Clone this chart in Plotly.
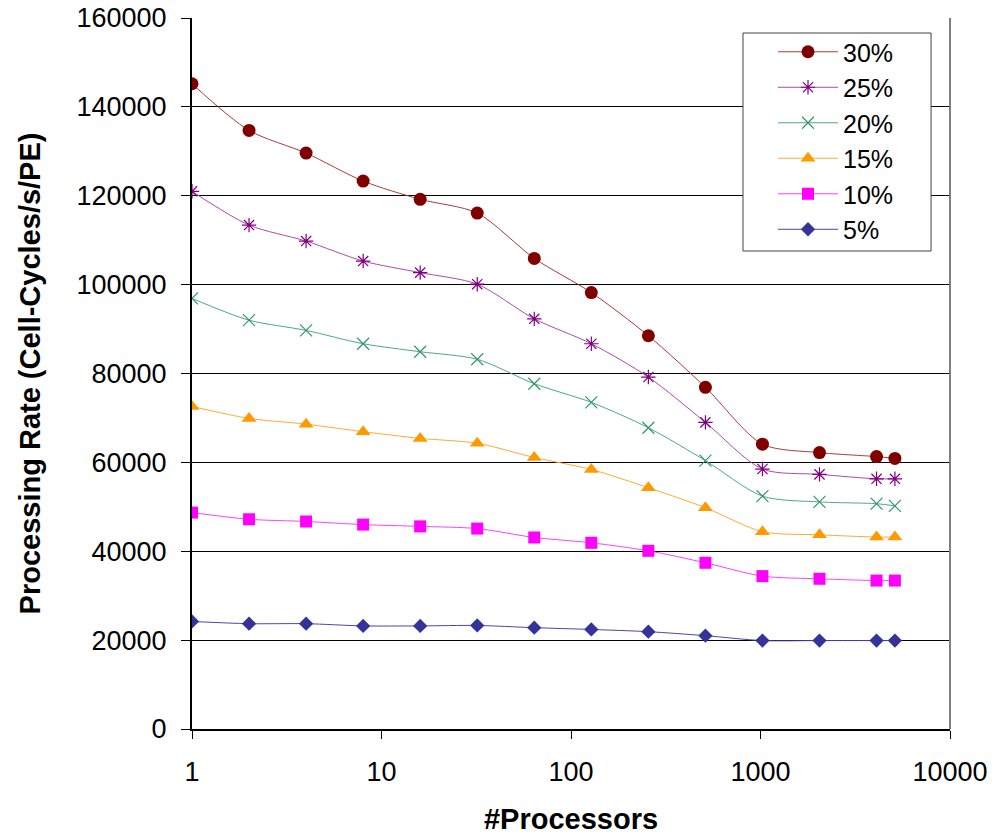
import plotly.graph_objects as go

processors = [1, 2, 4, 8, 16, 32, 64, 128, 256, 512, 1024, 2048, 4096, 5120]

series_names = ["30%", "25%", "20%", "15%", "10%", "5%"]
rate_30 = [145200, 134700, 129600, 123300, 119200, 116100, 105900, 98200, 88500, 76900, 64100, 62200, 61300, 60900]
rate_25 = [121000, 113400, 109800, 105300, 102700, 100100, 92300, 86700, 79200, 69000, 58500, 57300, 56300, 56300]
rate_20 = [96900, 92000, 89700, 86700, 84900, 83200, 77700, 73500, 67800, 60400, 52400, 51100, 50700, 50200]
rate_15 = [72600, 69900, 68600, 66900, 65400, 64300, 61100, 58400, 54300, 49800, 44400, 43700, 43200, 43200]
rate_10 = [48700, 47200, 46700, 46000, 45600, 45100, 43100, 41900, 40100, 37400, 34400, 33800, 33400, 33400]
rate_5 = [24200, 23700, 23700, 23200, 23200, 23300, 22800, 22400, 21900, 21000, 19900, 19900, 19900, 19900]

x_tick_vals = [1, 10, 100, 1000, 10000]
x_tick_text = ["1", "10", "100", "1000", "10000"]
y_tick_vals = [0, 20000, 40000, 60000, 80000, 100000, 120000, 140000, 160000]
y_tick_text = ["0", "20000", "40000", "60000", "80000", "100000", "120000", "140000", "160000"]

styles = [
    dict(color="#800000", line="#A83C3C", symbol="circle", size=13),
    dict(color="#800080", line="#B048B0", symbol="asterisk-open", size=12),
    dict(color="#339966", line="#4DAA80", symbol="x-thin-open", size=12),
    dict(color="#FF9900", line="#FFAA33", symbol="triangle-up", size=13),
    dict(color="#FF00FF", line="#FF40FF", symbol="square", size=12),
    dict(color="#333399", line="#4848A8", symbol="diamond", size=11),
]
all_rates = [rate_30, rate_25, rate_20, rate_15, rate_10, rate_5]

fig = go.Figure()
for name, vals, st in zip(series_names, all_rates, styles):
    open_sym = st["symbol"].endswith("open")
    fig.add_trace(go.Scatter(
        x=processors, y=vals, name=name, mode="lines+markers",
        line=dict(color=st["line"], width=1, shape="spline", smoothing=0.8),
        marker=dict(symbol=st["symbol"], size=st["size"], color=st["color"],
                    line=dict(color=st["color"], width=1.2 if open_sym else 0)),
    ))

font_family = "Liberation Sans, Arial, sans-serif"

fig.update_layout(
    width=994, height=835,
    margin=dict(l=192, r=44, t=18, b=106, autoexpand=False),
    paper_bgcolor="white", plot_bgcolor="white",
    font=dict(family=font_family, color="black", size=27),
    showlegend=True,
    legend=dict(
        x=0.7665, y=0.9845, xanchor="left", yanchor="top",
        bgcolor="rgba(0,0,0,0)", borderwidth=0,
        font=dict(size=25, family=font_family),
        itemwidth=60,
        traceorder="normal",
    ),
    xaxis=dict(
        type="log", range=[0, 4], automargin=False,
        tickvals=x_tick_vals, ticktext=x_tick_text,
        ticks="outside", ticklen=8, tickcolor="black", tickwidth=1,
        ticklabelstandoff=10, ticklabeloverflow="allow",
        showgrid=False, showline=True, linecolor="black", linewidth=1.5,
        tickfont=dict(size=27), zeroline=False,
        title=dict(text="<b>#Processors</b>", font=dict(size=29), standoff=35),
    ),
    yaxis=dict(
        range=[0, 160000], tickvals=y_tick_vals, ticktext=y_tick_text, automargin=False,
        ticks="outside", ticklen=9, tickcolor="black", tickwidth=1,
        ticklabelstandoff=9, ticklabeloverflow="allow",
        showgrid=True, gridcolor="black", gridwidth=1,
        showline=True, linecolor="black", linewidth=2,
        tickfont=dict(size=27), zeroline=False,
        title=dict(text="<b>Processing Rate (Cell-Cycles/s/PE)</b>", font=dict(size=29), standoff=27),
    ),
    shapes=[
        dict(type="line", xref="paper", yref="paper", x0=1, x1=1, y0=0, y1=1,
             line=dict(color="#808080", width=2)),
        # legend frame
        dict(type="rect", xref="paper", yref="paper", x0=0.7269, x1=0.975, y0=0.6723, y1=0.9789,
             fillcolor="white", line=dict(color="#404040", width=1), layer="above"),
    ],
)

fig.write_html("out.html", config={"displayModeBar": False},
               post_script="document.body.style.margin='0';")
